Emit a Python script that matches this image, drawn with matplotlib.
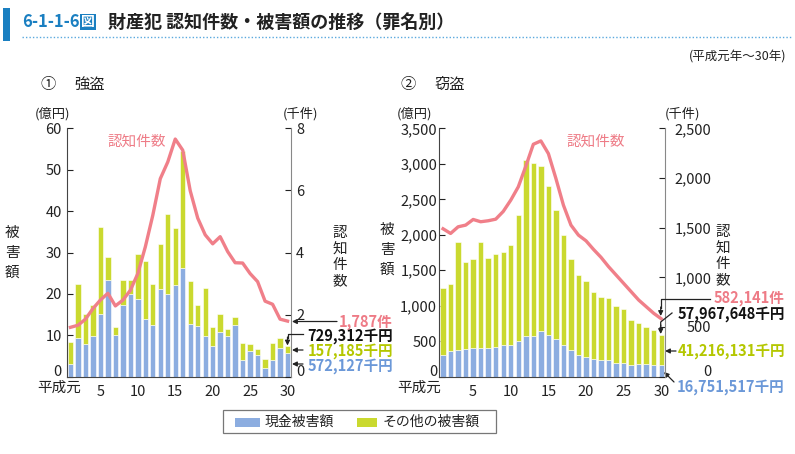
import matplotlib
matplotlib.use("Agg")
import matplotlib.pyplot as plt
from matplotlib.patches import Rectangle
from matplotlib.lines import Line2D
import numpy as np

plt.rcParams['font.family'] = ['Noto Sans CJK JP', 'DejaVu Sans']

# ---------------- data ----------------
years = list(range(1, 31))
xtick_vals = [1, 5, 10, 15, 20, 25, 30]
xtick_labels = ['平成元', '5', '10', '15', '20', '25', '30']

# ① 強盗 (億円 / 千件)
robbery_cash = [3.1, 9.4, 7.9, 9.9, 15.2, 23.3, 10.1, 17.4, 20.0, 18.7, 14.0, 12.4, 21.2, 20.0, 22.2,
                26.3, 12.8, 12.3, 9.7, 7.3, 10.7, 9.9, 12.5, 4.1, 6.1, 5.3, 2.1, 3.9, 6.9, 5.72127]
robbery_total = [8.3, 22.3, 15.0, 17.2, 36.2, 28.8, 12.0, 23.3, 23.3, 29.7, 27.9, 22.5, 32.0, 39.3, 35.9,
                 54.5, 23.1, 17.3, 21.4, 12.0, 15.1, 11.5, 14.4, 8.1, 7.8, 6.6, 4.2, 8.2, 9.4, 7.29312]
robbery_count = [1.586, 1.653, 1.848, 2.189, 2.466, 2.684, 2.277, 2.463, 2.78, 3.32, 4.18, 5.2, 6.38, 6.92,
                 7.66, 7.30, 5.99, 5.11, 4.57, 4.28, 4.51, 4.03, 3.67, 3.66, 3.32, 3.06, 2.43, 2.33, 1.85, 1.787]

# ② 窃盗 (億円 / 千件)
theft_cash = [310, 357, 371, 385, 400, 400, 400, 414, 451, 442, 498, 578, 578, 639, 592,
              526, 451, 376, 310, 273, 244, 226, 226, 197, 197, 169, 179, 179, 165, 167.51517]
theft_total = [1250, 1307, 1899, 1617, 1659, 1899, 1673, 1730, 1758, 1861, 2284, 3055, 3013, 2970, 2688,
               2350, 1993, 1659, 1434, 1349, 1194, 1119, 1109, 996, 959, 799, 761, 700, 658, 579.67648]
theft_count = [1489, 1442, 1509, 1526, 1583, 1560, 1570, 1586, 1664, 1778, 1912, 2120, 2341, 2375, 2247,
               1996, 1727, 1526, 1425, 1368, 1281, 1201, 1107, 1023, 939, 855, 771, 704, 637, 582.141]

robbery_labels = ['1,787件', '729,312千円', '157,185千円', '572,127千円']
theft_labels = ['582,141件', '57,967,648千円', '41,216,131千円', '16,751,517千円']

# ---------------- style ----------------
W, H = 795, 454
C_BLUE = '#8cadE0'
C_GREEN = '#cad92f'
C_LINE = '#f07f89'
C_PINK_TXT = '#ee7b86'
C_GREEN_TXT = '#b4c700'
C_BLUE_TXT = '#6b98d8'
C_DARK = '#222222'

fig = plt.figure(figsize=(W / 100, H / 100), dpi=100)
fig.patch.set_facecolor('white')


def fx(x):
    return x / W


def fy(y):
    return 1 - y / H


def ftext(x, y, s, **kw):
    fig.text(fx(x), fy(y), s, **kw)


def box(x0, x1, y0, y1):
    return [fx(x0), fy(y1), fx(x1) - fx(x0), fy(y0) - fy(y1)]


# ---------------- header ----------------
fig.add_artist(Rectangle((fx(3), fy(41)), fx(7) - fx(0), fy(8) - fy(41),
                         transform=fig.transFigure, color='#1a7fc1', lw=0))
ftext(22, 22, '6-1-1-6', fontsize=12, fontweight='bold', color='#1a7fc1', va='center', ha='left')
ftext(81, 22, '図', fontsize=10, fontweight='bold', color='white', va='center', ha='left',
      bbox=dict(boxstyle='square,pad=0.08', fc='#1a7fc1', ec='none'))
ftext(108, 22, '財産犯 認知件数・被害額の推移（罪名別）', fontsize=13, fontweight='bold',
      color=C_DARK, va='center', ha='left')
fig.add_artist(Line2D([fx(22), fx(792)], [fy(37), fy(37)], transform=fig.transFigure,
                      color='#5aa9de', lw=1.0, linestyle=(0, (1, 1.5))))
ftext(786, 57, '(平成元年～30年)', fontsize=9, color=C_DARK, va='center', ha='right')

ftext(40, 84, '①', fontsize=11, color=C_DARK, va='center', ha='left')
ftext(74, 84, '強盗', fontsize=11, color=C_DARK, va='center', ha='left')
ftext(400, 84, '②', fontsize=11, color=C_DARK, va='center', ha='left')
ftext(434, 84, '窃盗', fontsize=11, color=C_DARK, va='center', ha='left')

TOP, BOT = 128.5, 376.5


def make_panel(x0, x1, cash, total, count, ymax, ystep, y2max, y2step, y2fmt, yfmt, lpad, rpad_pt, r_ha):
    ax = fig.add_axes(box(x0, x1, TOP, BOT))
    other = [t - c for t, c in zip(total, cash)]
    ax.bar(years, cash, width=0.72, color=C_BLUE, edgecolor='white', linewidth=0.4, zorder=2)
    ax.bar(years, other, width=0.72, bottom=cash, color=C_GREEN, edgecolor='white', linewidth=0.4, zorder=2)
    ax.set_xlim(0.5, 30.5)
    ax.set_ylim(0, ymax)
    ax.set_yticks(np.arange(0, ymax + 1, ystep))
    ax.set_yticklabels([yfmt(v) for v in np.arange(0, ymax + 1, ystep)])
    ax.set_xticks(xtick_vals)
    ax.set_xticklabels([''] + xtick_labels[1:])
    ax.tick_params(axis='x', length=0, pad=6, labelsize=10.5, colors=C_DARK)
    ax.tick_params(axis='y', direction='in', length=4, pad=lpad, labelsize=10.5, colors=C_DARK, width=0.8)
    ax.get_yticklabels()[0].set_verticalalignment('baseline')
    for s in ['top', 'right']:
        ax.spines[s].set_visible(False)
    ax.spines['left'].set_color('#444444')
    ax.spines['bottom'].set_color('#444444')
    ax.patch.set_alpha(0)

    ax2 = ax.twinx()
    ax2.plot(years, count, color=C_LINE, lw=2.4, zorder=3, solid_joinstyle='round')
    ax2.set_ylim(0, y2max)
    ticks2 = np.arange(0, y2max + 1, y2step)
    ax2.set_yticks(ticks2)
    ax2.set_yticklabels([y2fmt(v) for v in ticks2])
    ax2.tick_params(axis='y', direction='in', length=4, pad=rpad_pt, labelsize=10.5, colors=C_DARK, width=0.8)
    for lab in ax2.get_yticklabels():
        lab.set_horizontalalignment(r_ha)
    ax2.get_yticklabels()[0].set_verticalalignment('baseline')
    for s in ['top', 'left', 'bottom']:
        ax2.spines[s].set_visible(False)
    ax2.spines['right'].set_color('#888888')
    return ax, ax2


axL, axL2 = make_panel(66.7, 291.3, robbery_cash, robbery_total, robbery_count,
                       60, 10, 8, 2, lambda v: f'{int(v)}', lambda v: f'{int(v)}', 3.5, 3.5, 'left')
axR, axR2 = make_panel(439.3, 665, theft_cash, theft_total, theft_count,
                       3500, 500, 2500, 500, lambda v: f'{int(v):,}', lambda v: f'{int(v):,}', 1.5, 33.5, 'right')

ftext(59, 388, xtick_labels[0], fontsize=10.5, color=C_DARK, va='center', ha='center')
ftext(419, 388, xtick_labels[0], fontsize=10.5, color=C_DARK, va='center', ha='center')

# axis unit labels
ftext(52, 114, '(億円)', fontsize=9.5, color=C_DARK, va='center', ha='center')
ftext(300, 114, '(千件)', fontsize=9.5, color=C_DARK, va='center', ha='center')
ftext(414, 114, '(億円)', fontsize=9.5, color=C_DARK, va='center', ha='center')
ftext(682, 114, '(千件)', fontsize=9.5, color=C_DARK, va='center', ha='center')

# series label inside plots
ftext(137, 142, '認知件数', fontsize=10.5, color=C_PINK_TXT, va='center', ha='center')
ftext(596, 142, '認知件数', fontsize=10.5, color=C_PINK_TXT, va='center', ha='center')

# vertical axis titles
for i, ch in enumerate('被害額'):
    ftext(12, 233 + i * 20, ch, fontsize=10.5, color=C_DARK, va='center', ha='center')
    ftext(387, 230 + i * 20, ch, fontsize=10.5, color=C_DARK, va='center', ha='center')
for i, ch in enumerate('認知件数'):
    ftext(340, 233 + i * 16, ch, fontsize=10.5, color=C_DARK, va='center', ha='center')
    ftext(723, 232 + i * 16, ch, fontsize=10.5, color=C_DARK, va='center', ha='center')


# ---------------- annotations ----------------
def arrow(ax, xy, xytext):
    ax.annotate('', xy=xy, xytext=xytext, xycoords='figure pixels', textcoords='figure pixels',
                arrowprops=dict(arrowstyle='-|>', color=C_DARK, lw=0.9, mutation_scale=7,
                                shrinkA=0, shrinkB=0))


def seg(pts):
    xs = [fx(p[0]) for p in pts]
    ys = [fy(p[1]) for p in pts]
    fig.add_artist(Line2D(xs, ys, transform=fig.transFigure, color=C_DARK, lw=0.9))


def fp(x, y):
    return (x, H - y)


AFS = 10.5
# robbery
ftext(393, 321.5, robbery_labels[0], fontsize=AFS, fontweight='bold', color=C_PINK_TXT, va='center', ha='right')
ftext(393, 336, robbery_labels[1], fontsize=AFS, fontweight='bold', color='#111111', va='center', ha='right')
ftext(393, 351, robbery_labels[2], fontsize=AFS, fontweight='bold', color=C_GREEN_TXT, va='center', ha='right')
ftext(393, 366, robbery_labels[3], fontsize=AFS, fontweight='bold', color=C_BLUE_TXT, va='center', ha='right')
arrow(axL, fp(292, 321.5), fp(337, 321.5))
seg([(303, 334), (287.5, 334), (287.5, 338)])
arrow(axL, fp(287.5, 345.5), fp(287.5, 337))
arrow(axL, fp(292, 350), fp(303, 350))
arrow(axL, fp(292, 364), fp(303, 364))

# theft
ftext(785, 298, theft_labels[0], fontsize=AFS, fontweight='bold', color=C_PINK_TXT, va='center', ha='right')
ftext(785, 314, theft_labels[1], fontsize=AFS, fontweight='bold', color='#111111', va='center', ha='right')
ftext(785, 351, theft_labels[2], fontsize=AFS, fontweight='bold', color=C_GREEN_TXT, va='center', ha='right')
ftext(785, 387, theft_labels[3], fontsize=AFS, fontweight='bold', color=C_BLUE_TXT, va='center', ha='right')
seg([(710, 299), (660.7, 299), (660.7, 308)])
arrow(axR, fp(660.7, 316), fp(660.7, 307))
seg([(672, 313), (660.7, 322), (660.7, 326)])
arrow(axR, fp(660.7, 334), fp(660.7, 325))
arrow(axR, fp(665, 351), fp(676, 351))
arrow(axR, fp(664, 372), fp(674, 382))

# ---------------- legend ----------------
fig.add_artist(Rectangle((fx(223), fy(433)), fx(496) - fx(223), fy(410) - fy(433),
                         transform=fig.transFigure, fc='white', ec='#777777', lw=0.9))
fig.add_artist(Rectangle((fx(235), fy(427)), fx(260) - fx(235), fy(418) - fy(427),
                         transform=fig.transFigure, fc=C_BLUE, ec='none'))
ftext(265, 421.5, '現金被害額', fontsize=10, color=C_DARK, va='center', ha='left')
fig.add_artist(Rectangle((fx(357), fy(427)), fx(377) - fx(357), fy(418) - fy(427),
                         transform=fig.transFigure, fc=C_GREEN, ec='none'))
ftext(383, 421.5, 'その他の被害額', fontsize=10, color=C_DARK, va='center', ha='left')

fig.savefig('out.png', dpi=100, facecolor='white')
